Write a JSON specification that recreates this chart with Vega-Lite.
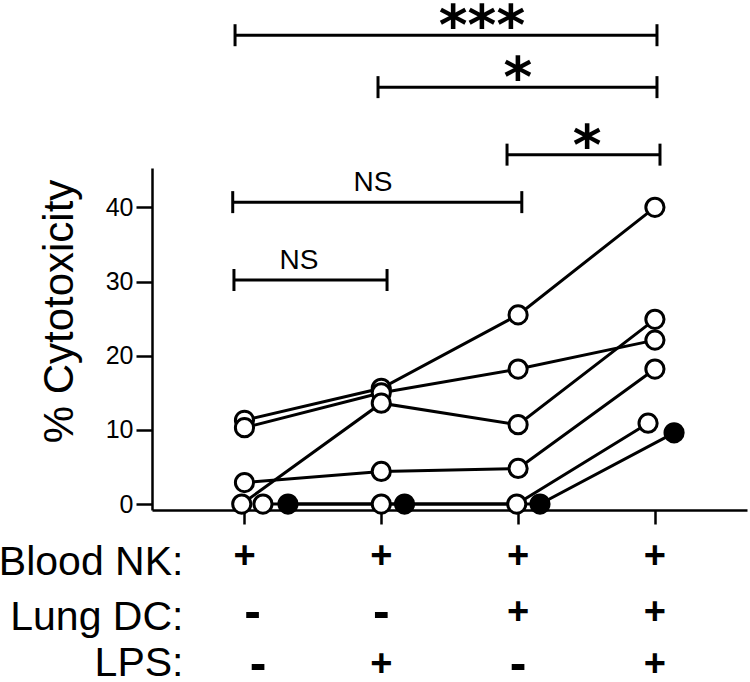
{
  "$schema": "https://vega.github.io/schema/vega-lite/v6.json",
  "autosize": {"type": "none"},
  "width": 595,
  "height": 342,
  "padding": {"left": 152, "top": 168, "right": 3, "bottom": 172},
  "background": "white",
  "config": {"view": {"stroke": null}, "font": "Liberation Sans"},
  "datasets": {
    "series": [
      {"series": "A", "kind": "open", "x": 1, "v": 11.3},
      {"series": "A", "kind": "open", "x": 2, "v": 15.6},
      {"series": "A", "kind": "open", "x": 3, "v": 25.5},
      {"series": "A", "kind": "open", "x": 4, "v": 40.0},
      {"series": "B", "kind": "open", "x": 1, "v": 10.3},
      {"series": "B", "kind": "open", "x": 2, "v": 15.0},
      {"series": "B", "kind": "open", "x": 3, "v": 18.2},
      {"series": "B", "kind": "open", "x": 4, "v": 22.1},
      {"series": "C", "kind": "open", "x": 0.98, "v": 0},
      {"series": "C", "kind": "open", "x": 2, "v": 13.6},
      {"series": "C", "kind": "open", "x": 3, "v": 10.7},
      {"series": "C", "kind": "open", "x": 4, "v": 24.9},
      {"series": "D", "kind": "open", "x": 1, "v": 2.9},
      {"series": "D", "kind": "open", "x": 2, "v": 4.4},
      {"series": "D", "kind": "open", "x": 3, "v": 4.8},
      {"series": "D", "kind": "open", "x": 4, "v": 18.2},
      {"series": "E", "kind": "open", "x": 1.135, "v": 0},
      {"series": "E", "kind": "open", "x": 2.0, "v": 0},
      {"series": "E", "kind": "open", "x": 2.99, "v": 0},
      {"series": "E", "kind": "open", "x": 3.95, "v": 10.9},
      {"series": "F", "kind": "filled", "x": 1.318, "v": 0},
      {"series": "F", "kind": "filled", "x": 2.17, "v": 0},
      {"series": "F", "kind": "filled", "x": 3.16, "v": 0},
      {"series": "F", "kind": "filled", "x": 4.14, "v": 9.6}
    ],
    "brackets": [
      {"x1": 0.931, "x2": 4.015, "y": 63.2, "lx": 2.736, "label": "***", "kind": "star"},
      {"x1": 1.976, "x2": 4.015, "y": 56.2, "lx": 2.999, "label": "*", "kind": "star"},
      {"x1": 2.919, "x2": 4.037, "y": 47.1, "lx": 3.504, "label": "*", "kind": "star"},
      {"x1": 0.914, "x2": 3.027, "y": 40.7, "lx": 1.939, "label": "NS", "kind": "ns"},
      {"x1": 0.923, "x2": 2.042, "y": 30.2, "lx": 1.398, "label": "NS", "kind": "ns"}
    ],
    "rows": [
      {"row": "Blood NK:", "level": -9.56},
      {"row": "Lung DC:", "level": -16.97},
      {"row": "LPS:", "level": -23.2}
    ],
    "signs": [
      {"row": "Blood NK:", "level": -7.1, "x": 1, "sign": "+"},
      {"row": "Blood NK:", "level": -7.1, "x": 2, "sign": "+"},
      {"row": "Blood NK:", "level": -7.1, "x": 3, "sign": "+"},
      {"row": "Blood NK:", "level": -7.1, "x": 4, "sign": "+"},
      {"row": "Lung DC:", "level": -14.7, "x": 1.06, "sign": "-"},
      {"row": "Lung DC:", "level": -14.7, "x": 2, "sign": "-"},
      {"row": "Lung DC:", "level": -14.7, "x": 3, "sign": "+"},
      {"row": "Lung DC:", "level": -14.7, "x": 4, "sign": "+"},
      {"row": "LPS:", "level": -21.7, "x": 1.1, "sign": "-"},
      {"row": "LPS:", "level": -21.7, "x": 2, "sign": "+"},
      {"row": "LPS:", "level": -21.7, "x": 3, "sign": "-"},
      {"row": "LPS:", "level": -21.7, "x": 4, "sign": "+"}
    ]
  },
  "layer": [
    {
      "data": {"name": "series"},
      "mark": {"type": "line", "color": "black", "strokeWidth": 3},
      "encoding": {
        "x": {
          "field": "x", "type": "quantitative",
          "scale": {"domain": [0.324, 4.673], "nice": false, "zero": false},
          "axis": {
            "orient": "bottom", "values": [1, 2, 3, 4], "labels": false, "title": null, "grid": false,
            "tickSize": 14, "tickWidth": 2.5, "tickColor": "black", "domainColor": "black", "domainWidth": 2.5
          }
        },
        "y": {
          "field": "v", "type": "quantitative",
          "scale": {"domain": [-0.8, 45.3], "nice": false, "zero": false},
          "axis": {
            "orient": "left", "values": [0, 10, 20, 30, 40], "grid": false,
            "tickSize": 16, "tickWidth": 2.5, "tickColor": "black", "domainColor": "black", "domainWidth": 2.5,
            "labelFont": "Liberation Sans", "labelFontSize": 25, "labelColor": "black", "labelPadding": 3,
            "title": "% Cytotoxicity", "titleFont": "Liberation Sans", "titleFontSize": 42, "titleFontWeight": "normal",
            "titleColor": "black", "titleAngle": -90, "titleBaseline": "alphabetic", "titleAlign": "center",
            "titleX": -80, "titleY": 143
          }
        },
        "detail": {"field": "series", "type": "nominal"}
      }
    },
    {
      "data": {"name": "series"},
      "mark": {"type": "point", "shape": "circle", "filled": true, "size": 330, "stroke": "black", "strokeWidth": 3, "opacity": 1},
      "encoding": {
        "x": {"field": "x", "type": "quantitative"},
        "y": {"field": "v", "type": "quantitative"},
        "fill": {"field": "kind", "type": "nominal", "scale": {"domain": ["open", "filled"], "range": ["white", "black"]}, "legend": null}
      }
    },
    {
      "data": {"name": "brackets"},
      "mark": {"type": "rule", "color": "black", "strokeWidth": 3},
      "encoding": {
        "x": {"field": "x1", "type": "quantitative"},
        "x2": {"field": "x2"},
        "y": {"field": "y", "type": "quantitative"}
      }
    },
    {
      "data": {"name": "brackets"},
      "mark": {"type": "tick", "orient": "vertical", "color": "black", "thickness": 3, "size": 22, "opacity": 1},
      "encoding": {
        "x": {"field": "x1", "type": "quantitative"},
        "y": {"field": "y", "type": "quantitative"}
      }
    },
    {
      "data": {"name": "brackets"},
      "mark": {"type": "tick", "orient": "vertical", "color": "black", "thickness": 3, "size": 22, "opacity": 1},
      "encoding": {
        "x": {"field": "x2", "type": "quantitative"},
        "y": {"field": "y", "type": "quantitative"}
      }
    },
    {
      "data": {"name": "brackets"},
      "transform": [{"filter": "datum.kind === 'star'"}],
      "mark": {"type": "text", "font": "DejaVu Sans", "fontWeight": "bold", "fontSize": 55, "color": "black", "align": "center", "baseline": "alphabetic", "dy": 9},
      "encoding": {
        "x": {"field": "lx", "type": "quantitative"},
        "y": {"field": "y", "type": "quantitative"},
        "text": {"field": "label"}
      }
    },
    {
      "data": {"name": "brackets"},
      "transform": [{"filter": "datum.kind === 'ns'"}],
      "mark": {"type": "text", "font": "Liberation Sans", "fontSize": 28, "color": "black", "align": "center", "baseline": "alphabetic", "dy": -11},
      "encoding": {
        "x": {"field": "lx", "type": "quantitative"},
        "y": {"field": "y", "type": "quantitative"},
        "text": {"field": "label"}
      }
    },
    {
      "data": {"name": "rows"},
      "mark": {"type": "text", "font": "Liberation Sans", "fontSize": 41, "color": "black", "align": "right", "baseline": "alphabetic"},
      "encoding": {
        "x": {"datum": 0.554, "type": "quantitative"},
        "y": {"field": "level", "type": "quantitative"},
        "text": {"field": "row"}
      }
    },
    {
      "data": {"name": "signs"},
      "mark": {"type": "text", "font": "Liberation Sans", "fontWeight": "bold", "color": "black", "align": "center", "baseline": "middle"},
      "encoding": {
        "x": {"field": "x", "type": "quantitative"},
        "y": {"field": "level", "type": "quantitative"},
        "text": {"field": "sign"},
        "size": {"field": "sign", "type": "nominal", "scale": {"domain": ["+", "-"], "range": [38, 50]}, "legend": null}
      }
    }
  ]
}
